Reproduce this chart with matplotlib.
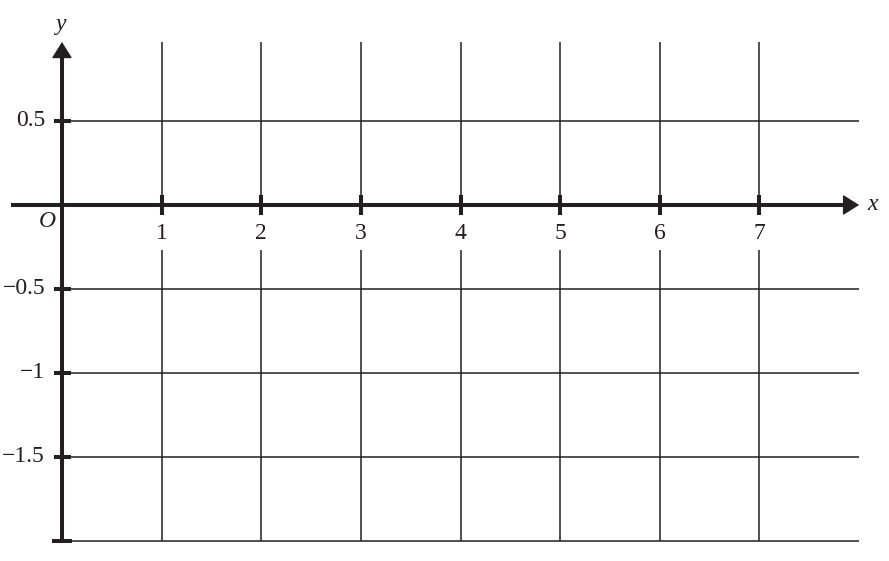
import matplotlib
matplotlib.use("Agg")
import matplotlib.pyplot as plt

# axis ranges of the grid
x_min_axis = -0.51
x_max = 8
y_top = 0.97
y_bottom = -2

x_ticks = [1, 2, 3, 4, 5, 6, 7]
x_labels = ["1", "2", "3", "4", "5", "6", "7"]
y_ticks = [0.5, -0.5, -1, -1.5]
y_labels = ["0.5", "\u22120.5", "\u22121", "\u22121.5"]

INK = "#231f20"
FONT = ["Liberation Serif", "DejaVu Serif"]
FS = 17

fig = plt.figure(figsize=(8.89, 5.61), dpi=100)
ax = fig.add_axes([0, 0, 1, 1])
ax.set_xlim(-0.622, 8.300)
ax.set_ylim(-2.119, 1.220)
ax.axis("off")

# grid
ax.hlines(y_ticks + [y_bottom], 0, x_max, color=INK, lw=1.1)
ax.vlines(x_ticks, 0, y_top, color=INK, lw=1.1)
ax.vlines(x_ticks, y_bottom, -0.27, color=INK, lw=1.1)

# axes lines (stop at arrow base), then sharp arrow heads
head_x = 15 / 99.64   # head length in data units along x
head_y = 15 / 168.0   # head length in data units along y
ax.plot([x_min_axis, x_max - head_x], [0, 0], color=INK, lw=2.9, solid_capstyle="butt")
ax.plot([0, 0], [y_bottom, y_top - head_y], color=INK, lw=2.9, solid_capstyle="butt")

arrow = dict(arrowstyle="-|>,head_length=1.05,head_width=0.66",
             lw=0.8, color=INK, shrinkA=0, shrinkB=0, mutation_scale=10,
             joinstyle="miter")
ax.annotate("", xy=(x_max, 0), xytext=(x_max - head_x, 0), arrowprops=arrow)
ax.annotate("", xy=(0, y_top), xytext=(0, y_top - head_y), arrowprops=arrow)

# tick marks
ax.vlines(x_ticks, -0.06, 0.06, color=INK, lw=2.9)
ax.hlines(y_ticks, -0.085, 0.095, color=INK, lw=2.9)
ax.hlines([y_bottom], -0.1, 0.1, color=INK, lw=2.9)

# tick labels
for x, lab in zip(x_ticks, x_labels):
    ax.text(x, -0.17, lab, ha="center", va="center", fontsize=FS, family=FONT, color=INK)
for y, lab in zip(y_ticks, y_labels):
    ax.text(-0.17, y, lab, ha="right", va="center", fontsize=FS, family=FONT, color=INK)

ax.text(-0.146, -0.098, "O", ha="center", va="center", fontsize=FS, family=FONT,
        style="italic", color=INK)
ax.text(8.134, 0.0, "x", ha="center", va="center", fontsize=FS, family=FONT,
        style="italic", color=INK)
ax.text(-0.01, 1.077, "y", ha="center", va="center", fontsize=FS, family=FONT,
        style="italic", color=INK)

fig.savefig("out.png", dpi=100)
